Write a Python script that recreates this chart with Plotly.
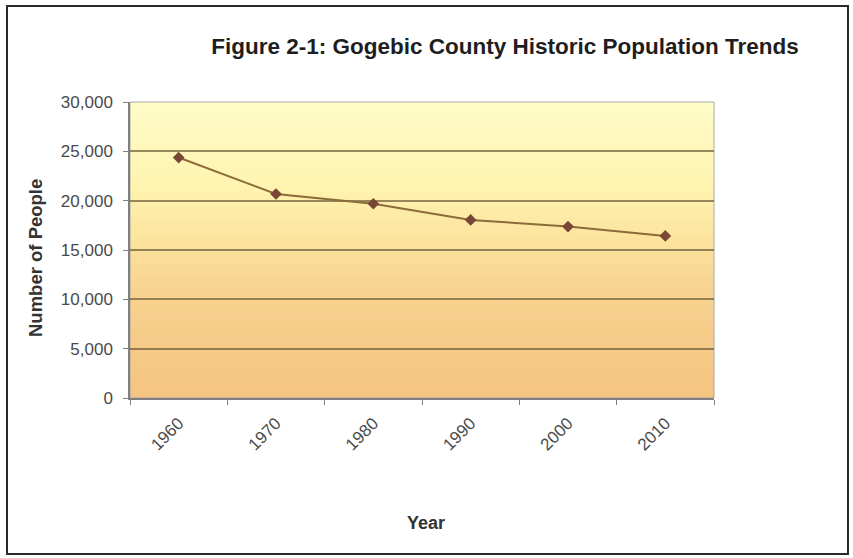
import base64
import plotly.graph_objects as go

# ---- data ----
years = ["1960", "1970", "1980", "1990", "2000", "2010"]
population = [24370, 20676, 19686, 18052, 17370, 16427]
y_ticks = [0, 5000, 10000, 15000, 20000, 25000, 30000]

title_text = "Figure 2-1: Gogebic County Historic Population Trends"
x_title = "Year"
y_title = "Number of People"

# ---- layout geometry (pixels) ----
W, H = 853, 558
L, R, T, B = 130, 139, 102, 160
pw, ph = W - L - R, H - T - B


def px_to_paper_x(px):
    return (px - L) / pw


def px_to_paper_y(py):
    return (H - B - py) / ph


# gradient background for the plot area
svg = (
    '<svg xmlns="http://www.w3.org/2000/svg" width="100" height="100" '
    'preserveAspectRatio="none"><defs><linearGradient id="g" x1="0" y1="0" x2="0" y2="1">'
    '<stop offset="0" stop-color="#FFFCC8"/>'
    '<stop offset="0.28" stop-color="#FFF4B0"/>'
    '<stop offset="0.48" stop-color="#FBE29C"/>'
    '<stop offset="0.64" stop-color="#F8D38F"/>'
    '<stop offset="0.84" stop-color="#F6C987"/>'
    '<stop offset="1" stop-color="#F5C481"/>'
    '</linearGradient></defs><rect width="100" height="100" fill="url(#g)"/></svg>'
)
src = "data:image/svg+xml;base64," + base64.b64encode(svg.encode()).decode()

fig = go.Figure()
fig.add_trace(
    go.Scatter(
        x=years,
        y=population,
        mode="lines+markers",
        line=dict(color="#8B6B3A", width=2),
        marker=dict(symbol="diamond", size=9, color="#7A4636"),
        showlegend=False,
        hoverinfo="x+y",
    )
)

FONT = "Liberation Sans, Arial, sans-serif"

fig.update_layout(
    width=W,
    height=H,
    margin=dict(l=L, r=R, t=T, b=B),
    paper_bgcolor="white",
    plot_bgcolor="rgba(0,0,0,0)",
    font=dict(family=FONT, color="#444444"),
    title=dict(
        text=title_text,
        font=dict(size=22.5, color="#1E1E1E", family=FONT, weight="bold"),
        x=px_to_paper_x(505),
        xref="paper",
        xanchor="center",
        y=1 - 46 / H,
        yref="container",
        yanchor="middle",
    ),
    images=[
        dict(
            source=src,
            xref="paper",
            yref="paper",
            x=0,
            y=1,
            sizex=1,
            sizey=1,
            sizing="stretch",
            xanchor="left",
            yanchor="top",
            layer="below",
        )
    ],
    shapes=[
        # outer frame
        dict(
            type="rect",
            xref="paper",
            yref="paper",
            x0=px_to_paper_x(7),
            x1=px_to_paper_x(848),
            y0=px_to_paper_y(554),
            y1=px_to_paper_y(6),
            line=dict(color="#2A2A2A", width=2),
            layer="below",
        ),
        # plot area border
        dict(
            type="rect",
            xref="paper",
            yref="paper",
            x0=0,
            x1=1,
            y0=0,
            y1=1,
            line=dict(color="#A8A8A8", width=1),
            layer="below",
        ),
    ],
    annotations=[
        dict(
            text=y_title,
            xref="paper",
            yref="paper",
            x=px_to_paper_x(35),
            y=px_to_paper_y(258),
            xanchor="center",
            yanchor="middle",
            textangle=-90,
            showarrow=False,
            font=dict(size=18.5, color="#333333", family=FONT, weight="bold"),
        ),
        dict(
            text=x_title,
            xref="paper",
            yref="paper",
            x=px_to_paper_x(426),
            y=px_to_paper_y(523),
            xanchor="center",
            yanchor="middle",
            showarrow=False,
            font=dict(size=18, color="#333333", family=FONT, weight="bold"),
        ),
    ],
    xaxis=dict(
        type="category",
        categoryorder="array",
        categoryarray=years,
        tickson="boundaries",
        ticks="outside",
        ticklen=5,
        tickcolor="#808080",
        showline=True,
        linecolor="#808080",
        linewidth=1.5,
        showgrid=False,
        tickangle=-45,
        ticklabelstandoff=7,
        tickfont=dict(size=17, color="#4A4A4A"),
        range=[-0.5, len(years) - 0.5],
    ),
    yaxis=dict(
        range=[0, 30000],
        tickvals=y_ticks,
        tickformat=",",
        ticks="outside",
        ticklen=5,
        tickcolor="#808080",
        showline=True,
        linecolor="#808080",
        linewidth=1.5,
        showgrid=True,
        gridcolor="rgba(105,90,55,0.7)",
        gridwidth=1.5,
        zeroline=False,
        ticklabelstandoff=7,
        tickfont=dict(size=17, color="#4A4A4A"),
    ),
)

fig.write_html("out.html")
